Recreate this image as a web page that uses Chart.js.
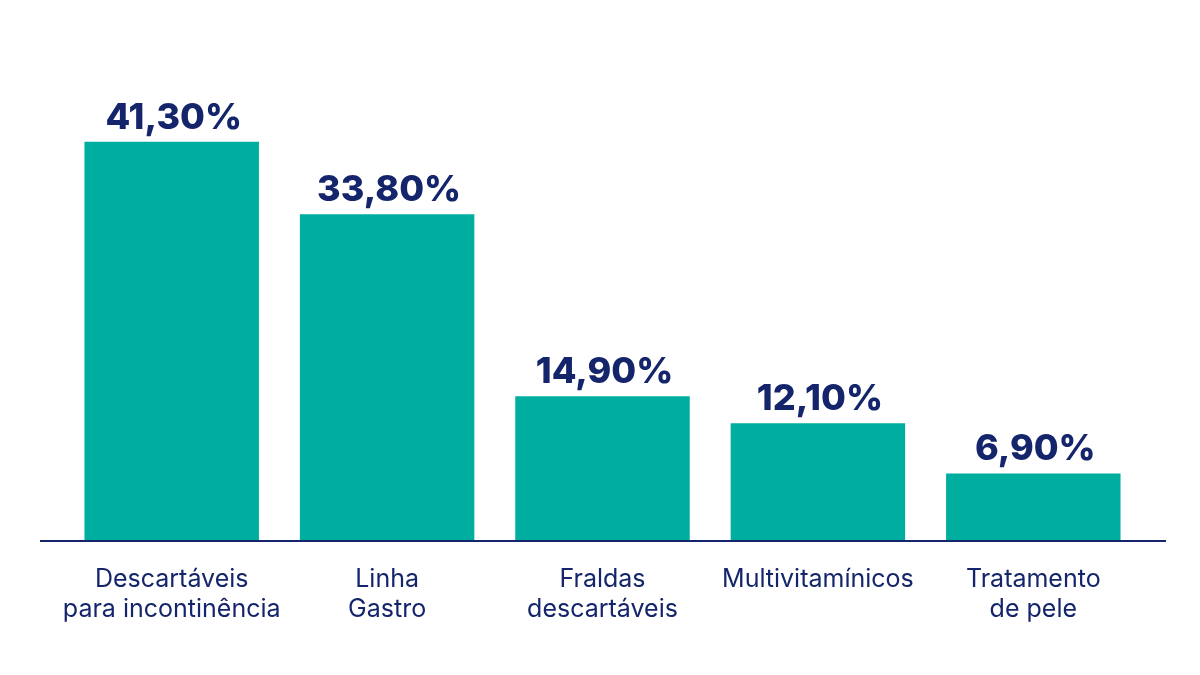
<!DOCTYPE html>
<html>
<head>
<meta charset="utf-8">
<script src="https://cdn.jsdelivr.net/npm/chart.js@4"></script>
<style>
html,body{margin:0;padding:0;background:#ffffff;}
#wrap{width:1200px;height:675px;position:relative;}
</style>
</head>
<body>
<div id="wrap"><canvas id="c" width="1200" height="675"></canvas></div>
<script>
const categories = [
  ["Descartáveis", "para incontinência"],
  ["Linha", "Gastro"],
  ["Fraldas", "descartáveis"],
  ["Multivitamínicos"],
  ["Tratamento", "de pele"]
];
const values = [41.3, 33.8, 14.9, 12.1, 6.9];

const TEAL = '#00ae9f';
const NAVY = '#15256b';
const FONT = 'Inter, "Noto Sans", sans-serif';

const valueLabels = {
  id: 'valueLabels',
  afterDatasetsDraw(chart) {
    const ctx = chart.ctx;
    const meta = chart.getDatasetMeta(0);
    ctx.save();
    ctx.fillStyle = NAVY;
    ctx.font = '800 36px ' + FONT;
    ctx.textAlign = 'center';
    ctx.textBaseline = 'alphabetic';
    meta.data.forEach((bar, i) => {
      const txt = values[i].toFixed(2).replace('.', ',') + '%';
      ctx.fillText(txt, bar.x + 2, bar.y - 13);
    });
    // baseline
    const a = chart.chartArea;
    ctx.strokeStyle = NAVY;
    ctx.lineWidth = 2;
    ctx.beginPath();
    ctx.moveTo(a.left - 24, a.bottom + 1);
    ctx.lineTo(a.right + 25, a.bottom + 1);
    ctx.stroke();
    ctx.restore();
  }
};

new Chart(document.getElementById('c'), {
  type: 'bar',
  data: {
    labels: categories,
    datasets: [{
      data: values,
      backgroundColor: TEAL,
      borderWidth: 0,
      categoryPercentage: 1,
      barPercentage: 0.81
    }]
  },
  options: {
    responsive: false,
    animation: false,
    devicePixelRatio: 1,
    layout: { padding: { left: 64, right: 59, top: 58, bottom: 0 } },
    plugins: { legend: { display: false }, tooltip: { enabled: false } },
    scales: {
      x: {
        grid: { display: false, drawTicks: false },
        border: { display: false },
        ticks: {
          color: NAVY,
          font: { family: FONT, size: 25, lineHeight: 1.2 },
          padding: 24,
          maxRotation: 0,
          minRotation: 0,
          autoSkip: false
        },
        afterFit(s) { s.height = 135; }
      },
      y: {
        display: false,
        min: 0,
        max: 50
      }
    }
  },
  plugins: [valueLabels]
});
</script>
</body>
</html>
